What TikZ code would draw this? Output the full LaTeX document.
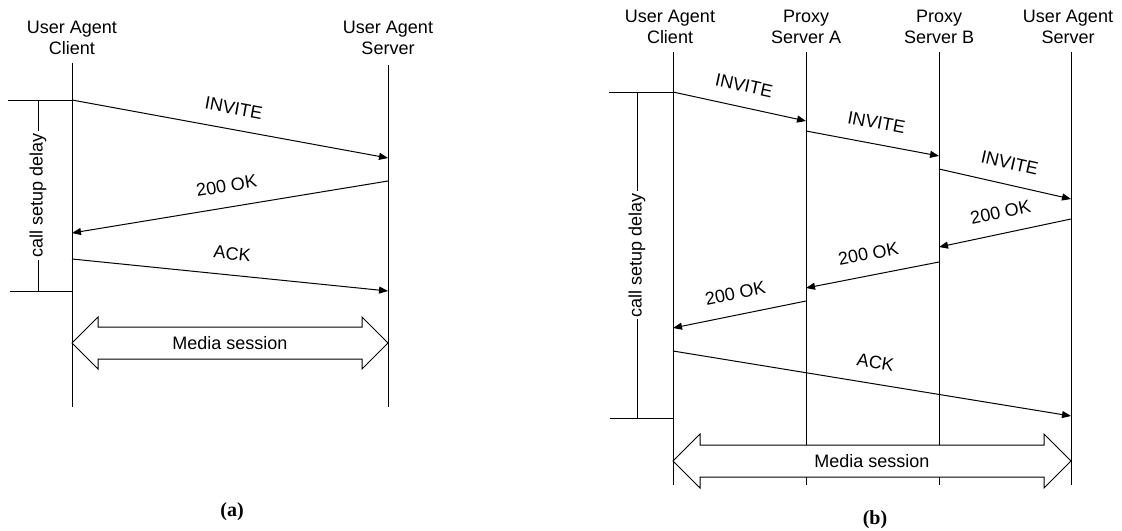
\documentclass[tikz,border=0pt]{standalone}
\usepackage{fontspec}
\setmainfont{Liberation Sans}
\newfontfamily\capfont{Liberation Serif}
\usetikzlibrary{arrows.meta}
\begin{document}
\begin{tikzpicture}[x=0.5pt, y=-0.5pt, line width=0.5pt,
    font=\fontsize{9}{10.5}\selectfont,
    msg/.style={-{Triangle[length=4.5pt,width=3.5pt]}},
    lbl/.style={midway, sloped, above=4pt},
    party/.style={align=center}]
        \useasboundingbox (0,0) rectangle (1122,530);

        % (a) direct call
        \node[party] (uac) at (72,38) {User Agent\\Client};
        \node[party] (uas) at (388,38) {User Agent\\Server};
        \coordinate (c1) at (72,63);
        \coordinate (s1) at (388,65);
        \draw (c1) -- (72,407);
        \draw (s1) -- (388,407);

        \draw[msg] (c1 |- 0,100) -- node[lbl] {INVITE} (s1 |- 0,158);
        \draw[msg] (s1 |- 0,181) -- node[lbl] {200 OK} (c1 |- 0,233);
        \draw[msg] (c1 |- 0,259) -- node[lbl] {ACK} (s1 |- 0,291);

        \draw (8,100) -- (c1 |- 0,100);
        \draw (10,291) -- (c1 |- 0,291);
        \draw (38,100) -- node[fill=white, rotate=90, inner sep=1pt] {call setup delay} (38,291);

        \draw[fill=white] (72,343) -- (98,317) -- (98,327) -- (362,327) -- (362,317) -- (388,343)
          -- (362,369) -- (362,359) -- (98,359) -- (98,369) -- cycle;
        \node (media1) at (230,343) {Media session};
        \node[font=\capfont\bfseries\fontsize{10}{12}\selectfont] (capa) at (232,512) {(a)};

        % (b) call through two proxies
        \node[party] (buac) at (670,27) {User Agent\\Client};
        \node[party] (pa) at (806,27) {Proxy\\Server A};
        \node[party] (pb) at (939,27) {Proxy\\Server B};
        \node[party] (buas) at (1068,27) {User Agent\\Server};
        \coordinate (c2) at (673,52);
        \coordinate (a2) at (806,52);
        \coordinate (b2) at (939,52);
        \coordinate (s2) at (1071,52);
        \foreach \l in {c2,a2,b2,s2}
          \draw (\l) -- (\l |- 0,485);

        \draw[msg] (c2 |- 0,92) -- node[lbl] {INVITE} (a2 |- 0,121);
        \draw[msg] (a2 |- 0,131) -- node[lbl] {INVITE} (b2 |- 0,156);
        \draw[msg] (b2 |- 0,169) -- node[lbl] {INVITE} (s2 |- 0,199);
        \draw[msg] (s2 |- 0,219) -- node[lbl] {200 OK} (b2 |- 0,247);
        \draw[msg] (b2 |- 0,262) -- node[lbl] {200 OK} (a2 |- 0,288);
        \draw[msg] (a2 |- 0,301) -- node[lbl] {200 OK} (c2 |- 0,328);
        \draw[msg] (c2 |- 0,351) -- node[lbl] {ACK} (s2 |- 0,416);

        \draw (609,92) -- (c2 |- 0,92);
        \draw (610,418) -- (c2 |- 0,418);
        \draw (637,92) -- node[fill=white, rotate=90, inner sep=1pt] {call setup delay} (637,418);

        \draw[fill=white] (673,461) -- (700,434) -- (700,445) -- (1044,445) -- (1044,434) -- (1071,461)
          -- (1044,488) -- (1044,477) -- (700,477) -- (700,488) -- cycle;
        \node (media2) at (872,461) {Media session};
        \node[font=\capfont\bfseries\fontsize{10}{12}\selectfont] (capb) at (875,520) {(b)};
      \end{tikzpicture}
\end{document}
